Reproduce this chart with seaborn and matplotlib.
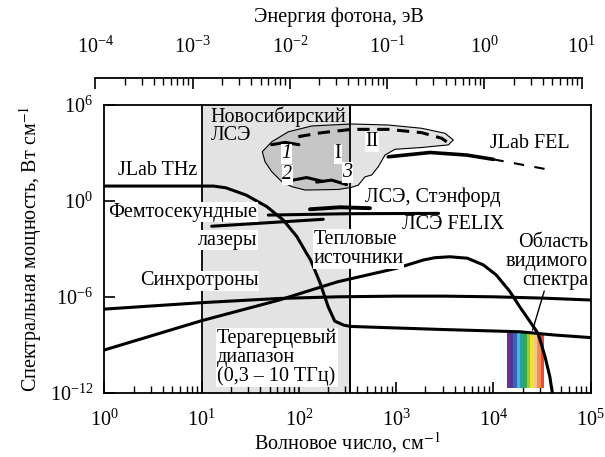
import numpy as np
import matplotlib
matplotlib.use("Agg")
import matplotlib.pyplot as plt
from matplotlib.patches import Rectangle, Polygon
from matplotlib.ticker import LogLocator, NullLocator, NullFormatter
import seaborn as sns

# x: wavenumber, cm^-1 ; y: spectral power, W per cm^-1
jlab_thz_x = [1, 13.2, 17.8, 22.9, 28.8, 46.8, 69.2, 95.5, 120, 132, 166, 200, 234, 288, 339, 2820, 18600, 41700, 1e5]
jlab_thz_y = [8.5, 8.5, 6.6, 3.8, 2.3, 0.44, 0.063, 5.8e-3, 5.2e-4, 2.0e-4, 6.9e-6, 2.4e-7, 3.0e-8, 1.7e-8, 1.4e-8, 9.1e-9, 6.5e-9, 4.1e-9, 2.8e-9]

thermal_x = [1, 10, 63, 250, 1000, 1900, 2500, 3550, 5400, 7900, 10700, 14800, 18600, 23400, 28800, 33900, 38000, 40700]
thermal_y = [4.7e-10, 3.2e-8, 6.3e-7, 8.7e-6, 6.0e-5, 2.0e-4, 2.8e-4, 3.2e-4, 2.6e-4, 9.8e-5, 2.3e-5, 2.1e-6, 2.4e-7, 3.2e-8, 5.1e-9, 1.8e-10, 1e-11, 6.3e-13]

sync_x = [1, 10, 63, 250, 1000, 3160, 10000, 31600, 1e5]
sync_y = [1.7e-7, 4.3e-7, 7.9e-7, 1.0e-6, 1.1e-6, 1.1e-6, 1.0e-6, 8.3e-7, 6.3e-7]

femto_x = [12.7, 178]
femto_y = [0.026, 0.071]
felix_x = [48.5, 316, 2730]
felix_y = [0.13, 0.158, 0.166]
stanford_x = [130, 265, 538]
stanford_y = [0.30, 0.40, 0.35]
jlab_fel_x = [830, 2230, 5310, 9980]
jlab_fel_y = [575, 1070, 741, 398]
jlab_fel_ext_x = [9980, 35300]
jlab_fel_ext_y = [398, 95.5]

# Novosibirsk FEL region outline
novo_x = [42.1, 52.6, 77.8, 135.5, 349, 830, 1832, 3177, 3873, 3436, 1832, 973, 767, 656, 561, 479, 408, 349, 254, 116, 84.3, 66.7, 52.6, 44.9]
novo_y = [1.2e3, 5.0e3, 2.1e4, 4.9e4, 6.5e4, 5.6e4, 3.5e4, 1.7e4, 6.5e3, 3.2e3, 2.2e3, 1.7e3, 7.4e2, 1.4e2, 42, 32, 9.8, 7.1, 5.2, 4.8, 7.8, 16, 68, 2.8e2]
novo_top_x = [98.6, 172, 349, 830, 1832, 2938, 3311]
novo_top_y = [1.05e4, 1.86e4, 3.0e4, 3.0e4, 1.86e4, 8.3e3, 5.0e3]
novo_1_x = [52.5, 72.4, 100]
novo_1_y = [3.3e3, 4.6e3, 3.3e3]
novo_2_x = [87, 120, 174]
novo_2_y = [20, 29, 17]
novo_3_x = [152, 217, 309]
novo_3_y = [15, 20, 10.5]

thz_band = [10, 333.6]          # 0.3 - 10 THz
visible = [13700, 33000]
visible_y = [2.1e-12, 5.1e-9]
visible_colors = ["#7b2a8c", "#4a3b97", "#3567b5", "#4db4e2", "#22a39a", "#38a846",
                  "#9cc93c", "#f1e430", "#f8c68a", "#f38a4f", "#e84a3c"]

EV_PER_CM = 1.2398e-4

sns.set_theme(style="ticks")
plt.rcParams["font.family"] = ["Liberation Serif", "DejaVu Serif"]
plt.rcParams["mathtext.fontset"] = "stix"
plt.rcParams["text.color"] = "black"
plt.rcParams["axes.labelcolor"] = "black"
plt.rcParams["xtick.color"] = "black"
plt.rcParams["ytick.color"] = "black"
plt.rcParams["axes.edgecolor"] = "black"

FS = 14.5
LW = 2.2
fig = plt.figure(figsize=(6.05, 4.57), dpi=100)
ax = fig.add_axes([0.1724, 0.1407, 0.804, 0.6295])
ax.set_xscale("log")
ax.set_yscale("log")
ax.set_xlim(1, 1e5)
ax.set_ylim(1e-12, 1e6)

# terahertz band
ax.axvspan(thz_band[0], thz_band[1], color="#e3e3e3", lw=0, zorder=0)
for xb in thz_band:
    ax.axvline(xb, color="black", lw=1.3, zorder=1)

# Novosibirsk region: light outside band, darker inside
pts = np.column_stack([novo_x, novo_y])
ax.add_patch(Polygon(pts, closed=True, facecolor="#e3e3e3", edgecolor="none", zorder=2))
dark = Polygon(pts, closed=True, facecolor="#c6c6c6", edgecolor="none", zorder=2.1)
ax.add_patch(dark)
clip = Rectangle((thz_band[0], 1e-12), thz_band[1] - thz_band[0], 1e7, transform=ax.transData)
dark.set_clip_path(clip)
ax.add_patch(Polygon(pts, closed=True, facecolor="none", edgecolor="black", lw=0.8, zorder=2.2))
ax.axvline(thz_band[1], color="black", lw=1.3, zorder=2.3)

# visible spectrum strip
edges = np.geomspace(visible[0], visible[1], len(visible_colors) + 1)
for i, c in enumerate(visible_colors):
    ax.fill_between([edges[i], edges[i + 1]], visible_y[0], visible_y[1], color=c, lw=0, zorder=2)

line_kw = dict(ax=ax, color="black", sort=False, estimator=None, legend=False, zorder=3)
sns.lineplot(x=jlab_thz_x, y=jlab_thz_y, lw=LW, **line_kw)
sns.lineplot(x=thermal_x, y=thermal_y, lw=LW, **line_kw)
sns.lineplot(x=sync_x, y=sync_y, lw=LW, **line_kw)
sns.lineplot(x=femto_x, y=femto_y, lw=LW, **line_kw)
sns.lineplot(x=felix_x, y=felix_y, lw=LW, **line_kw)
sns.lineplot(x=stanford_x, y=stanford_y, lw=2.8, **line_kw)
sns.lineplot(x=jlab_fel_x, y=jlab_fel_y, lw=2.6, **line_kw)
ax.plot(jlab_fel_ext_x, jlab_fel_ext_y, color="black", lw=1.5, dashes=(5, 5), zorder=3)
ax.plot(novo_top_x, novo_top_y, color="black", lw=LW, dashes=(4, 2.5), zorder=3)
for xs, ys in [(novo_1_x, novo_1_y), (novo_2_x, novo_2_y), (novo_3_x, novo_3_y)]:
    ax.plot(xs, ys, color="black", lw=LW, zorder=3)

white = dict(facecolor="white", edgecolor="none", pad=0.5)
txt = dict(fontsize=FS, zorder=5)
ax.text(12.3, 8.5e5, "Новосибирский\nЛСЭ", ha="left", va="top", linespacing=0.95, **txt)
ax.text(1.39, 85, "JLab THz", ha="left", va="center", bbox=white, **txt)
ax.text(1.1, 0.2, "Фемтосекундные", ha="left", va="center", bbox=white, **txt)
ax.text(18.7, 3.5e-3, "лазеры", ha="center", va="center", bbox=white, **txt)
ax.text(141, 0.015, "Тепловые\nисточники", ha="left", va="top", linespacing=1.0, bbox=white, **txt)
ax.text(479, 1.74, "ЛСЭ, Стэнфорд", ha="left", va="center", **txt)
ax.text(1140, 0.035, "ЛСЭ FELIX", ha="left", va="center", **txt)
ax.text(9230, 4200, "JLab FEL", ha="left", va="center", **txt)
ax.text(561, 5000, "II", ha="center", va="center", bbox=white, **txt)
ax.text(253, 900, "I", ha="center", va="center", bbox=white, **txt)
ax.text(75, 900, "1", ha="center", va="center", style="italic", bbox=white, **txt)
ax.text(76, 42, "2", ha="center", va="center", style="italic", bbox=white, **txt)
ax.text(316, 60, "3", ha="center", va="center", style="italic", bbox=white, **txt)
ax.text(9.4, 9.8e-6, "Синхротроны", ha="center", va="center", bbox=white, **txt)
ax.text(14.3, 1.1e-8, "Терагерцевый\nдиапазон\n(0,3 – 10 ТГц)", ha="left", va="top",
        linespacing=1.0, bbox=white, **txt)
ax.text(93800, 9.8e-3, "Область\nвидимого\nспектра", ha="right", va="top",
        multialignment="right", linespacing=1.0, **txt)
ax.annotate("", xy=(24800, 5.6e-9), xytext=(33900, 3.4e-6),
            arrowprops=dict(arrowstyle="-", color="black", lw=1.0), zorder=4)

# main axes ticks
for s in ax.spines.values():
    s.set_linewidth(1.3)
ax.xaxis.set_major_locator(LogLocator(base=10, numticks=10))
ax.xaxis.set_minor_locator(LogLocator(base=10, subs=range(2, 10), numticks=20))
ax.xaxis.set_minor_formatter(NullFormatter())
ax.set_yticks([1e-12, 1e-6, 1e0, 1e6])
ax.yaxis.set_minor_locator(NullLocator())
ax.tick_params(axis="x", which="major", direction="in", length=8, width=1.2, top=False, bottom=True, pad=12, labelsize=FS)
ax.tick_params(axis="x", which="minor", direction="in", length=5, width=1.0, top=False, bottom=True)
ax.tick_params(axis="y", which="major", direction="in", length=8, width=1.2, left=True, right=False, pad=8, labelsize=FS)
ax.set_xlabel("Волновое число, см$^{-1}$", fontsize=FS, labelpad=0)
ax.set_ylabel("Спектральная мощность, Вт см$^{-1}$", fontsize=FS, labelpad=4)

# photon energy axis above the frame
x0 = ax.get_position().x0
w = ax.get_position().width
lo = x0 + np.log10(1e-4 / EV_PER_CM) / 5 * w
hi = x0 + np.log10(10 / EV_PER_CM) / 5 * w
top_y = 1 - 77.7 / 457
axt = fig.add_axes([lo, top_y - 0.01, hi - lo, 0.01])
axt.patch.set_alpha(0)
axt.set_xscale("log")
axt.set_xlim(1e-4, 10)
axt.set_yticks([])
for k in ["left", "right", "bottom"]:
    axt.spines[k].set_visible(False)
axt.spines["top"].set_linewidth(1.3)
axt.xaxis.tick_top()
axt.xaxis.set_major_locator(LogLocator(base=10, numticks=10))
axt.xaxis.set_minor_locator(LogLocator(base=10, subs=range(2, 10), numticks=20))
axt.xaxis.set_minor_formatter(NullFormatter())
axt.tick_params(axis="x", which="major", direction="in", length=8, width=1.2, top=True, bottom=False, pad=14, labelsize=FS)
axt.tick_params(axis="x", which="minor", direction="in", length=5, width=1.0, top=True, bottom=False)
axt.xaxis.set_label_position("top")
axt.set_xlabel("Энергия фотона, эВ", fontsize=FS, labelpad=11)

fig.savefig("out.png", dpi=100)
